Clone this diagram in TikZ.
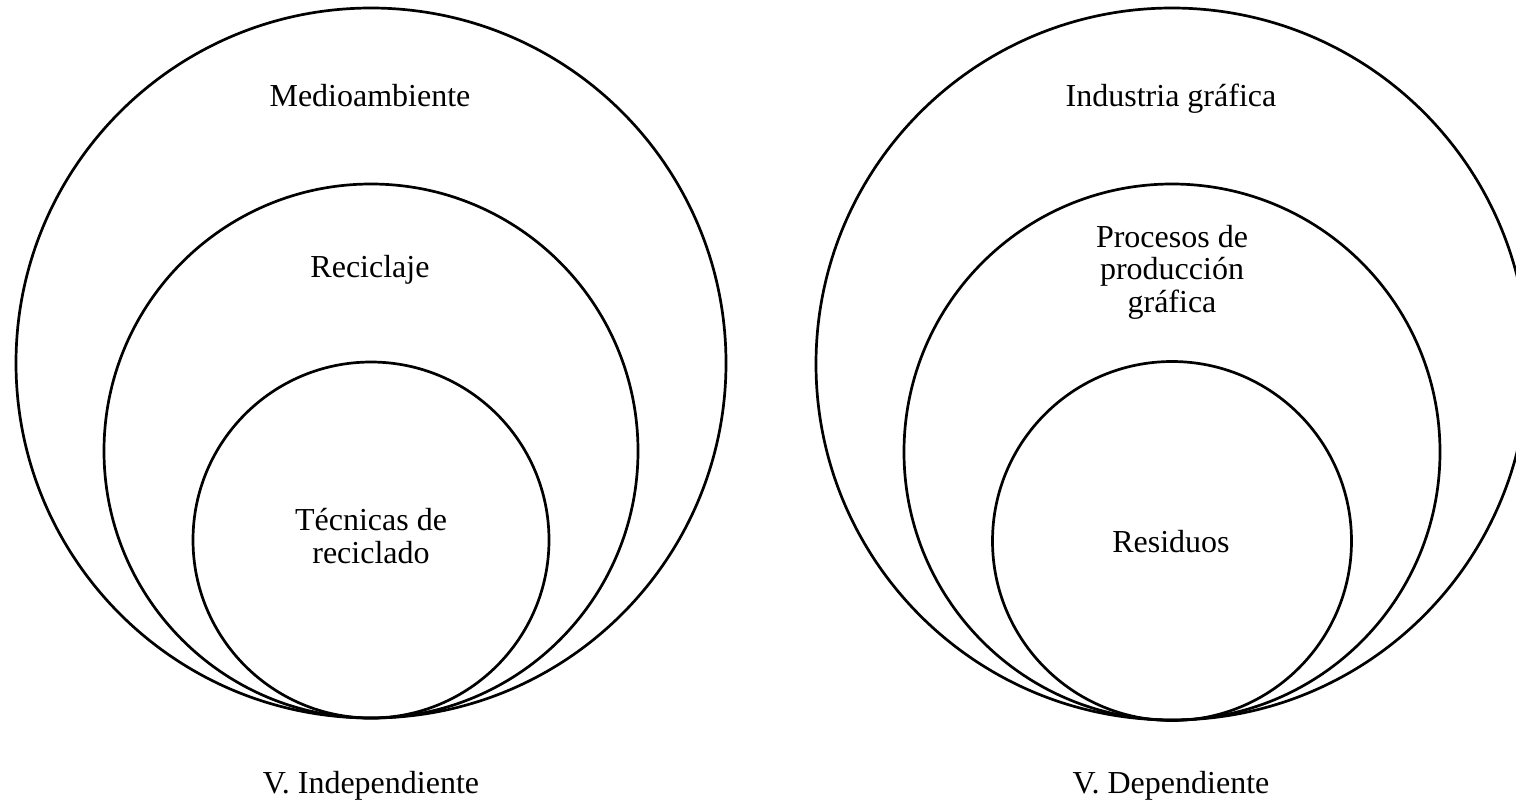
\documentclass[tikz,border=0pt]{standalone}
\usepackage{fontspec}
\setmainfont{Liberation Serif}
\begin{document}
\begin{tikzpicture}[x=1pt,y=-1pt,
  ring/.style={draw=black,line width=2.7pt,circle,inner sep=0pt},
  lbl/.style={align=center,font=\fontsize{32}{32.5}\selectfont,inner sep=0pt,anchor=base}]
\useasboundingbox (0,0) rectangle (1516,804);
\clip (0,0) rectangle (1516,804);
% left group
\node[ring,minimum size=710pt] (Lout) at (371,363) {};
\node[ring,minimum size=534pt] (Lmid) at (371,451) {};
\node[ring,minimum size=356pt] (Lin) at (371,540) {};
\node[lbl] (t1) at (370,106) {Medioambiente};
\node[lbl] (t2) at (370,277) {Reciclaje};
\node[lbl] (t3) at (371,563) {Técnicas de\\reciclado};
\node[lbl] (t4) at (371,793) {V. Independiente};
% right group
\node[ring,minimum size=712pt] (Rout) at (1172,364) {};
\node[ring,minimum size=536pt] (Rmid) at (1172,452) {};
\node[ring,minimum size=359pt] (Rin) at (1172,541) {};
\node[lbl] (s1) at (1171,106) {Industria gráfica};
\node[lbl] (s2) at (1172,312) {Procesos de\\producción\\gráfica};
\node[lbl] (s3) at (1171,552) {Residuos};
\node[lbl] (s4) at (1171,793) {V. Dependiente};
\end{tikzpicture}
\end{document}
